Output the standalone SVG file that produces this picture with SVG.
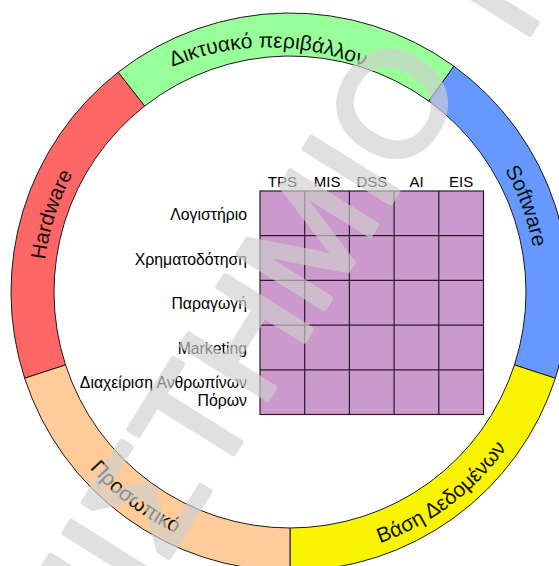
<svg xmlns="http://www.w3.org/2000/svg" width="559" height="566" viewBox="0 0 559 566">
  <style>
    .seg { stroke: #1a1a1a; stroke-width: 1; }
    .ring-label { font-family: "Liberation Sans", Arial, sans-serif; font-size: 21px; fill: #111; }
    .col { font-family: "Liberation Sans", Arial, sans-serif; font-size: 15px; fill: #000; text-anchor: middle; }
    .row { font-family: "Liberation Sans", Arial, sans-serif; font-size: 15.8px; fill: #000; text-anchor: end; }
    .grid-line { stroke: #2b1a2b; stroke-width: 1.2; fill: none; }
    .mark { font-family: "Liberation Sans", Arial, sans-serif; font-size: 148px; fill: #d0d0d0; stroke: #d0d0d0; stroke-width: 5; stroke-linejoin: round; }
  </style>
  <defs>
    <!-- baselines for the ring captions: clockwise arcs read outward, counter-clockwise arcs read inward -->
    <path id="arc-net" d="M36.8,209.4 A246,246 0 0 1 499.2,209.4"/>
    <path id="arc-hw" d="M137.9,486.6 A247,247 0 0 1 281.4,45.1"/>
    <path id="arc-sw" d="M290,45 A247,247 0 0 1 448.8,481.2"/>
    <path id="arc-db" d="M144.6,515.9 A267,267 0 0 0 545.3,213.9"/>
    <path id="arc-staff" d="M34.7,213.9 A267,267 0 0 0 435.4,515.9"/>
  </defs>

  <rect width="559" height="566" fill="#ffffff"/>

  <!-- ring of five components, centre (290,292), radii 236 / 279 -->
  <g id="hardware">
    <path class="seg" fill="#ff6666" d="M24.65,378.22 A279,279 0 0 1 118.23,72.15 L144.70,106.03 A236,236 0 0 0 65.55,364.93 Z"/>
    <text class="ring-label"><textPath href="#arc-hw" startOffset="50%" text-anchor="middle">Hardware</textPath></text>
  </g>
  <g id="network">
    <path class="seg" fill="#99ff99" d="M118.23,72.15 A279,279 0 0 1 453.99,66.28 L428.72,101.07 A236,236 0 0 0 144.70,106.03 Z"/>
    <text class="ring-label"><textPath href="#arc-net" startOffset="50%" text-anchor="middle">Δικτυακό περιβάλλον</textPath></text>
  </g>
  <g id="software">
    <path class="seg" fill="#6699ff" d="M453.99,66.28 A279,279 0 0 1 555.35,378.22 L514.45,364.93 A236,236 0 0 0 428.72,101.07 Z"/>
    <text class="ring-label"><textPath href="#arc-sw" startOffset="50%" text-anchor="middle">Software</textPath></text>
  </g>
  <g id="database">
    <path class="seg" fill="#f9f500" d="M555.35,378.22 A279,279 0 0 1 290,571 L290,528 A236,236 0 0 0 514.45,364.93 Z"/>
    <text class="ring-label"><textPath href="#arc-db" startOffset="50%" text-anchor="middle">Βάση Δεδομένων</textPath></text>
  </g>
  <g id="staff">
    <path class="seg" fill="#ffcc99" d="M290,571 A279,279 0 0 1 24.65,378.22 L65.55,364.93 A236,236 0 0 0 290,528 Z"/>
    <text class="ring-label"><textPath href="#arc-staff" startOffset="50%" text-anchor="middle">Προσωπικό</textPath></text>
  </g>

  <!-- matrix: functional areas × system types -->
  <g id="matrix">
    <rect x="260" y="191" width="223.5" height="223.5" fill="#cc99cc"/>
    <path class="grid-line" d="M304.7,191 V414.5 M349.4,191 V414.5 M394.1,191 V414.5 M438.8,191 V414.5 M260,235.7 H483.5 M260,280.4 H483.5 M260,325.1 H483.5 M260,369.8 H483.5"/>
    <rect class="grid-line" x="260" y="191" width="223.5" height="223.5"/>
  </g>

  <g id="columns">
    <text class="col" x="282.4" y="186.5">TPS</text>
    <text class="col" x="327.1" y="186.5">MIS</text>
    <text class="col" x="371.8" y="186.5">DSS</text>
    <text class="col" x="416.5" y="186.5">AI</text>
    <text class="col" x="461.2" y="186.5">EIS</text>
  </g>

  <g id="rows">
    <text class="row" x="247" y="219.5">Λογιστήριο</text>
    <text class="row" x="247" y="264.5">Χρηματοδότηση</text>
    <text class="row" x="247" y="309">Παραγωγή</text>
    <text class="row" x="247" y="353.5">Marketing</text>
    <text class="row" x="247" y="388"><tspan x="247">Διαχείριση Ανθρωπίνων</tspan><tspan x="247" y="405.5">Πόρων</tspan></text>
  </g>

  <!-- translucent diagonal lettering laid over the whole sheet -->
  <g id="overlay" opacity="0.65" transform="translate(466,82) rotate(-58)">
    <text class="mark" x="0" y="0" text-anchor="end">ΠΑΝΕΠΙΣΤΗΜΙΟ</text>
    <text class="mark" x="62" y="29">Π</text>
  </g>
</svg>
